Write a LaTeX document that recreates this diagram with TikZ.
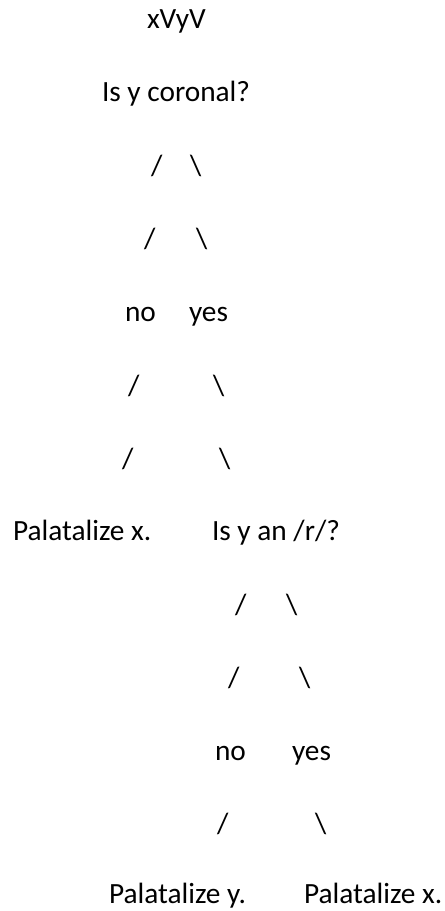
\documentclass[tikz,border=0pt]{standalone}
\usepackage{fontspec}
\setmainfont{Carlito}
\begin{document}
\begin{tikzpicture}[x=0.75pt,y=-0.75pt,
  lbl/.style={anchor=base west,inner sep=0pt,outer sep=0pt,font=\fontsize{22}{26}\selectfont}]
\useasboundingbox (0,0) rectangle (445,911);
% rows: baseline = 28.5 + 73.2*i
\node[lbl] (root)  at (147,28.8) {xVyV};
\node[lbl] (q1)    at (102,101.7) {Is y coronal?};
\node[lbl] (s1l)   at (151,175) {/};
\node[lbl] (s1r)   at (190,175) {\textbackslash};
\node[lbl] (s2l)   at (144,248.5) {/};
\node[lbl] (s2r)   at (196,248.5) {\textbackslash};
\node[lbl] (no1)   at (125,321.5) {no};
\node[lbl] (yes1)  at (189,321.5) {yes};
\node[lbl] (s3l)   at (128,395) {/};
\node[lbl] (s3r)   at (213,395) {\textbackslash};
\node[lbl] (s4l)   at (122,468) {/};
\node[lbl] (s4r)   at (219,468) {\textbackslash};
\node[lbl] (pal1)  at (13,540.5) {Palatalize x.};
\node[lbl] (q2)    at (212,540.5) {Is y an /r/?};
\node[lbl] (s5l)   at (235,614) {/};
\node[lbl] (s5r)   at (286,614) {\textbackslash};
\node[lbl] (s6l)   at (228,687) {/};
\node[lbl] (s6r)   at (299,687) {\textbackslash};
\node[lbl] (no2)   at (215,760) {no};
\node[lbl] (yes2)  at (292,760) {yes};
\node[lbl] (s7l)   at (217,833.5) {/};
\node[lbl] (s7r)   at (315,833.5) {\textbackslash};
\node[lbl] (pal2)  at (109,903.5) {Palatalize y.};
\node[lbl] (pal3)  at (304,903.5) {Palatalize x.};
\end{tikzpicture}
\end{document}
